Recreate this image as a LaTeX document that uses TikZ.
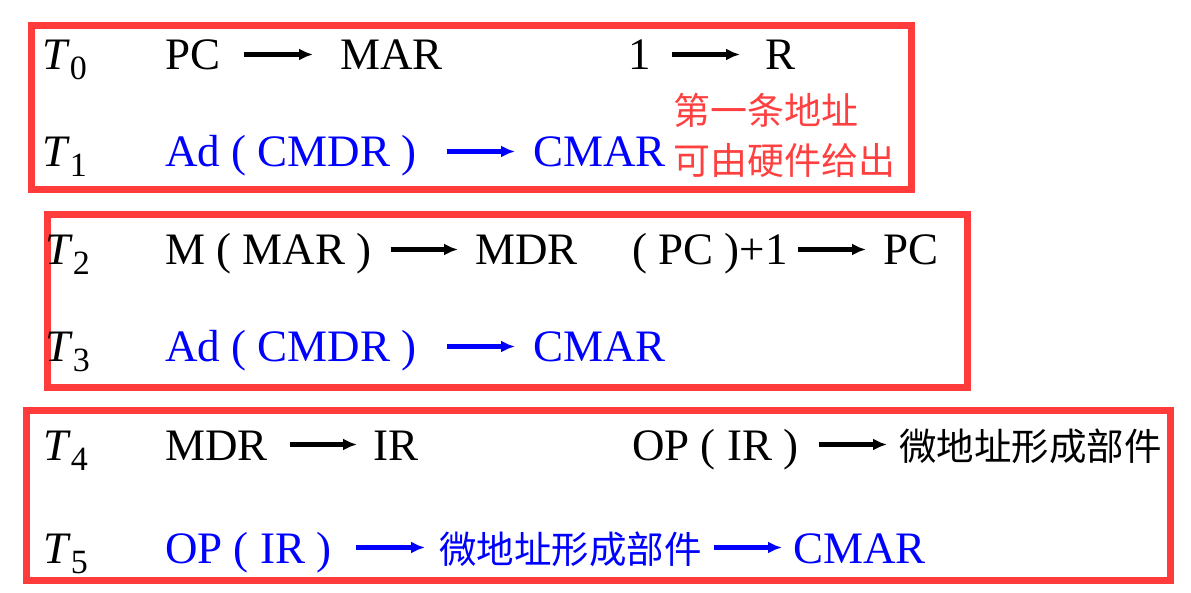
\documentclass[tikz,border=0pt]{standalone}
\usepackage{fontspec}
\setmainfont{Liberation Serif}
\newfontfamily\timesfont{Liberation Serif}
\newfontfamily\cjk{Noto Sans CJK SC}
\usepackage{tikz}
\usetikzlibrary{arrows.meta}
\definecolor{boxred}{RGB}{255,59,59}
\definecolor{notered}{RGB}{255,64,64}
\newcommand{\tstep}[1]{\textit{T}\raisebox{-10pt}{\fontsize{34}{34}\selectfont #1}}

\begin{document}
\begin{tikzpicture}[x=1pt,y=-1pt]
 \tikzset{cell/.style={anchor=base west,inner sep=0pt,text height=31pt,
   text depth=0pt,font=\timesfont\fontsize{45}{54}\selectfont},
   hz/.style={cell,font=\cjk\fontsize{37.5}{45}\selectfont},
   arr/.style 2 args={-{Latex[length=14pt,width=12pt]},line width=4.7pt,
   shorten <=#1pt,shorten >=#2pt},
   frame/.style={draw=boxred,line width=7pt}}
 \useasboundingbox (0,0) rectangle (1191,593);
 % frames
 \draw[frame] (31.5,25.5) rectangle (911,190);
 \draw[frame] (47,214.5) rectangle (967,387);
 \draw[frame] (26.5,410.5) rectangle (1170.5,580);
 % T0
 \node (t0) [cell] at (42,70) {\tstep{0}};
 \node (pc) [cell] at (165,70) {PC};
 \node (mar) [cell] at (340,70) {MAR};
 \node (one) [cell] at (628,70) {1};
 \node (r) [cell] at (765,70) {R};
 \draw[arr={24}{27}] (pc) -- (mar);
 \draw[arr={21}{25}] (one) -- (r);
 % T1
 \node (t1) [cell] at (42,167) {\tstep{1}};
 \node (ad1) [cell,text=blue] at (165,167) {Ad ( CMDR )};
 \node (cmar1) [cell,text=blue] at (533,167) {CMAR};
 \draw[arr={30}{18},blue] (ad1) -- (cmar1);
 \node (note1) [hz,text=notered,font=\cjk\fontsize{37}{45}\selectfont]
   at (673,125) {第一条地址};
 \node (note2) [hz,text=notered,font=\cjk\fontsize{37}{45}\selectfont]
   at (673,175) {可由硬件给出};
 % T2
 \node (t2) [cell] at (45,265) {\tstep{2}};
 \node (mmar) [cell] at (165,265) {M ( MAR )};
 \node (mdr2) [cell] at (475,265) {MDR};
 \node (inc) [cell] at (632,265) {( PC )+1};
 \node (pc2) [cell] at (883,265) {PC};
 \draw[arr={19}{17}] (mmar) -- (mdr2);
 \draw[arr={10}{17}] (inc) -- (pc2);
 % T3
 \node (t3) [cell] at (45,362) {\tstep{3}};
 \node (ad3) [cell,text=blue] at (165,362) {Ad ( CMDR )};
 \node (cmar3) [cell,text=blue] at (533,362) {CMAR};
 \draw[arr={30}{18},blue] (ad3) -- (cmar3);
 % T4
 \node (t4) [cell] at (43,460) {\tstep{4}};
 \node (mdr4) [cell] at (165,460) {MDR};
 \node (ir4) [cell] at (373,460) {IR};
 \node (op4) [cell] at (632,460) {OP ( IR )};
 \node (uaddr4) [hz] at (899,460) {微地址形成部件};
 \draw[arr={22}{16}] (mdr4) -- (ir4);
 \draw[arr={20}{12}] (op4) -- (uaddr4);
 % T5
 \node (t5) [cell] at (43,563) {\tstep{5}};
 \node (op5) [cell,text=blue] at (165,563) {OP ( IR )};
 \node (uaddr5) [hz,text=blue] at (439,563) {微地址形成部件};
 \node (cmar5) [cell,text=blue] at (793,563) {CMAR};
 \draw[arr={24}{14},blue] (op5) -- (uaddr5);
 \draw[arr={12}{11},blue] (uaddr5) -- (cmar5);
\end{tikzpicture}
\end{document}
